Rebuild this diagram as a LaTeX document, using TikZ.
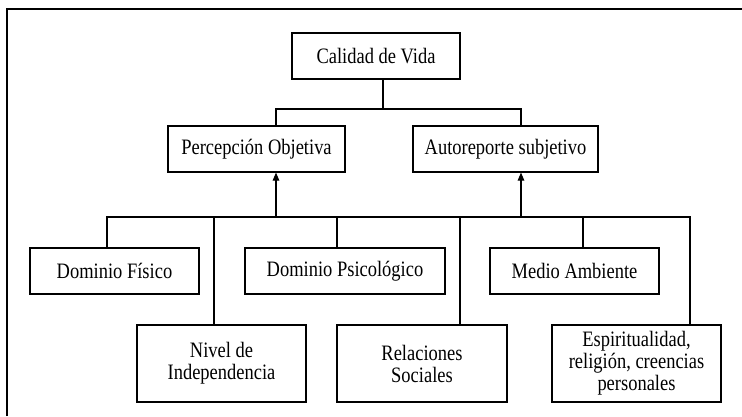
\documentclass[tikz,border=0pt]{standalone}
\usepackage{fontspec}
\setmainfont{Liberation Serif}[FakeStretch=0.84]
\usetikzlibrary{arrows.meta}
\tikzset{
  caja/.style={draw, line width=1.1pt, inner sep=0pt, align=center,
    minimum width=169pt, minimum height=46pt,
    font=\fontsize{22}{22}\selectfont},
  cajaalta/.style={caja, minimum height=77pt},
  linea/.style={line width=1.1pt},
  flecha/.style={linea, -{Triangle[length=8pt,width=6.5pt]}}
}
\begin{document}
\begin{tikzpicture}[x=1pt,y=-1pt]
   \useasboundingbox (0,0) rectangle (742,416);
   \draw[line width=2pt] (7,416) -- (7,9) -- (742,9);
   % cajas
   \node[caja, minimum width=168pt] (cdv) at (376,56) {Calidad de Vida};
   \node[caja, minimum width=177pt] (po) at (256.5,149) {Percepción Objetiva};
   \node[caja, minimum width=185pt] (as) at (505.5,149) {Autoreporte subjetivo};
   \node[caja] (df) at (114.5,271) {Dominio Físico};
   \node[caja, minimum width=200pt] (dp) at (345,271) {Dominio Psicológico};
   \node[caja] (ma) at (574.5,271) {Medio Ambiente};
   \node[cajaalta] (ni) at (221.5,363.5) {Nivel de\\Independencia};
   \node[cajaalta, minimum width=170pt] (rs) at (422,363.5) {Relaciones\\Sociales};
   \node[cajaalta] (es) at (636.5,363.5) {Espiritualidad,\\religión, creencias\\personales};
   % uniones
   \coordinate (h0) at (383,109);
   \coordinate (hpo) at (276,109);
   \coordinate (has) at (521,109);
   \coordinate (bpo) at (276,217);
   \coordinate (bas) at (521,217);
   \coordinate (bdf) at (107,217);
   \coordinate (bni) at (214,217);
   \coordinate (bdp) at (337,217);
   \coordinate (brs) at (460,217);
   \coordinate (bma) at (583,217);
   \coordinate (bes) at (690,217);
   % conectores
   \draw[linea] (cdv.south -| h0) -- (h0);
   \draw[linea] (po.north -| hpo) -- (hpo) -- (has) -- (as.north -| has);
   \draw[flecha] (bpo) -- (po.south -| bpo);
   \draw[flecha] (bas) -- (as.south -| bas);
   \draw[linea] (df.north -| bdf) -- (bdf) -- (bes) -- (es.north -| bes);
   \foreach \n/\c in {ni/bni, dp/bdp, rs/brs, ma/bma}
      \draw[linea] (\c) -- (\n.north -| \c);
\end{tikzpicture}
\end{document}
